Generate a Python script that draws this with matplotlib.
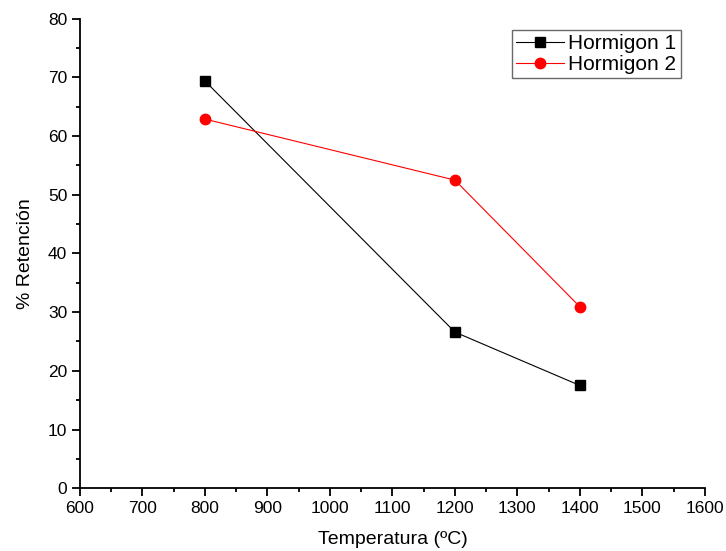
import matplotlib
matplotlib.use('Agg')
import matplotlib.pyplot as plt
from matplotlib.ticker import MultipleLocator

plt.rcParams['font.family'] = ['Liberation Sans', 'DejaVu Sans']

temperatura = [800, 1200, 1400]
hormigon1 = [69.4, 26.6, 17.5]
hormigon2 = [62.9, 52.5, 30.9]

fig = plt.figure(figsize=(7.26, 5.51), dpi=100)
ax = fig.add_axes([0.110, 0.114, 0.861, 0.852])

ax.plot(temperatura, hormigon1, color='black', linewidth=0.8, marker='s',
        markersize=7, label='Hormigon 1')
ax.plot(temperatura, hormigon2, color='red', linewidth=0.8, marker='o',
        markersize=7.5, label='Hormigon 2')

ax.set_xlim(600, 1600)
ax.set_ylim(0, 80)
ax.xaxis.set_major_locator(MultipleLocator(100))
ax.xaxis.set_minor_locator(MultipleLocator(50))
ax.yaxis.set_major_locator(MultipleLocator(10))
ax.yaxis.set_minor_locator(MultipleLocator(5))
ax.tick_params(which='major', direction='out', length=6, width=1.3,
               labelsize=12.5, pad=3)
ax.tick_params(which='minor', direction='out', length=3, width=1.3)

ax.spines['top'].set_visible(False)
ax.spines['right'].set_visible(False)
ax.spines['left'].set_linewidth(1.3)
ax.spines['bottom'].set_linewidth(1.3)

ax.set_xlabel('Temperatura (ºC)', fontsize=14, labelpad=11)
ax.set_ylabel('% Retención', fontsize=14, labelpad=10)

leg = ax.legend(loc='upper right', bbox_to_anchor=(0.968, 0.985),
                fontsize=15, frameon=True, fancybox=False,
                handlelength=2.3, borderpad=0.2, labelspacing=0.1,
                handletextpad=0.2, borderaxespad=0.2)
leg.get_frame().set_edgecolor('#444444')
leg.get_frame().set_linewidth(1.0)

fig.savefig('out.png', dpi=100)
